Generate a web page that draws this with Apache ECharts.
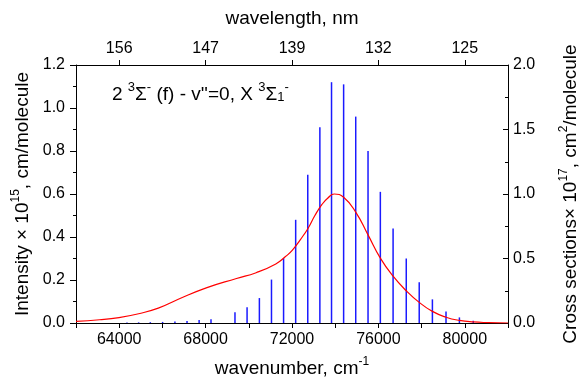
<!DOCTYPE html>
<html>
<head>
<meta charset="utf-8">
<script src="https://cdn.jsdelivr.net/npm/echarts@6/dist/echarts.min.js"></script>
<style>html,body{margin:0;padding:0;background:#fff;}#c{width:588px;height:383px;}</style>
</head>
<body>
<div id="c"></div>
<script>
// ---- data ----
const wavenumberTicks = [64000, 68000, 72000, 76000, 80000];
const wavelengthLabels = ['156', '147', '139', '132', '125'];

const stickWavenumber = [64360, 64900, 65440, 66010, 66580, 67140, 67700, 68250, 69360, 69920, 70490, 71050, 71610, 72170, 72730, 73290, 73830, 74390, 74950, 75520, 76090, 76680, 77290, 77890, 78500, 79130, 79750, 80390];
const stickIntensity = [0.002, 0.003, 0.004, 0.005, 0.007, 0.009, 0.014, 0.017, 0.050, 0.073, 0.116, 0.202, 0.302, 0.48, 0.69, 0.91, 1.12, 1.11, 0.96, 0.80, 0.61, 0.44, 0.30, 0.19, 0.11, 0.054, 0.026, 0.010];

const curveWavenumber = [62000, 63090, 63990, 64900, 65810, 66710, 68030, 69430, 70340, 71250, 71700, 72020, 72380, 72740, 73060, 73380, 73650, 73960, 74390, 74950, 75520, 76090, 76680, 77290, 77890, 78500, 79130, 79750, 80390, 81080, 82000];
const curveCrossSection = [0.013, 0.025, 0.042, 0.072, 0.115, 0.182, 0.272, 0.345, 0.39, 0.458, 0.515, 0.565, 0.645, 0.733, 0.833, 0.917, 0.967, 1.0, 0.975, 0.86, 0.683, 0.503, 0.363, 0.25, 0.16, 0.09, 0.045, 0.02, 0.008, 0.003, 0.0];

// ---- chart ----
const FONT = 'Liberation Sans';
const black = '#000';
const chart = echarts.init(document.getElementById('c'), null, {renderer: 'canvas'});

const titleRich = {
  n: {fontSize: 19, fontFamily: FONT, fontWeight: 'normal', color: black, lineHeight: 22, verticalAlign: 'bottom'},
  sup: {fontSize: 12, fontFamily: FONT, fontWeight: 'normal', color: black, lineHeight: 22, verticalAlign: 'top'}
};
const annRich = {
  n: {fontSize: 19, fontFamily: FONT, fontWeight: 'normal', color: black, lineHeight: 23, verticalAlign: 'bottom'},
  sup: {fontSize: 13, fontFamily: FONT, fontWeight: 'normal', color: black, lineHeight: 23, verticalAlign: 'top'},
  sub: {fontSize: 13, fontFamily: FONT, fontWeight: 'normal', color: black, lineHeight: 21, verticalAlign: 'bottom'}
};

const baseAxis = {
  axisLine: {show: true, onZero: false, lineStyle: {color: black, width: 1}},
  splitLine: {show: false},
  axisLabel: {fontFamily: FONT, fontSize: 16, color: black},
  nameTextStyle: {fontFamily: FONT, fontSize: 19, color: black}
};

const option = {
  animation: false,
  backgroundColor: '#fff',
  title: {
    text: '{n|2 }{sup|3}{n|Σ}{sup|-}{n| (f) - v\'\'=0, X }{sup|3}{n|Σ}{sub|1}{sup|-}',
    left: 107, top: 76,
    textStyle: {fontWeight: 'normal', rich: annRich}
  },
  grid: {left: 76, right: 71, top: 65, bottom: 55},
  xAxis: [
    Object.assign({}, baseAxis, {
      type: 'value', position: 'bottom', min: 62000, max: 82000, interval: 2000,
      axisTick: {show: true, length: 5, lineStyle: {color: black}},
      axisLabel: Object.assign({}, baseAxis.axisLabel, {
        margin: 9, customValues: wavenumberTicks, formatter: v => String(v)
      }),
      name: '{n|wavenumber, cm}{sup|-1}',
      nameLocation: 'middle', nameGap: 33,
      nameTextStyle: {rich: titleRich}
    }),
    Object.assign({}, baseAxis, {
      type: 'value', position: 'top', min: 62000, max: 82000,
      axisTick: {show: true, length: 5, customValues: wavenumberTicks, lineStyle: {color: black}},
      axisLabel: Object.assign({}, baseAxis.axisLabel, {
        margin: 8, customValues: wavenumberTicks,
        formatter: v => wavelengthLabels[wavenumberTicks.indexOf(v)] || ''
      }),
      name: 'wavelength, nm',
      nameLocation: 'middle', nameGap: 37
    })
  ],
  yAxis: [
    Object.assign({}, baseAxis, {
      type: 'value', position: 'left', min: 0, max: 1.2, interval: 0.2,
      axisTick: {show: true, length: 6, lineStyle: {color: black}},
      minorTick: {show: true, splitNumber: 2, length: 3, lineStyle: {color: black}},
      axisLabel: Object.assign({}, baseAxis.axisLabel, {margin: 11, formatter: v => v.toFixed(1)}),
      name: '{n|Intensity × 10}{sup|15}{n|, cm/molecule}',
      nameLocation: 'middle', nameRotate: 90, nameGap: 42,
      nameTextStyle: {rich: titleRich}
    }),
    Object.assign({}, baseAxis, {
      type: 'value', position: 'right', min: 0, max: 2.0, interval: 0.5,
      axisTick: {show: true, inside: true, length: 5, lineStyle: {color: black}},
      minorTick: {show: true, splitNumber: 2, length: 3, lineStyle: {color: black}},
      axisLabel: Object.assign({}, baseAxis.axisLabel, {margin: 5, formatter: v => v.toFixed(1)}),
      name: '{n|Cross sections× 10}{sup|17}{n|, cm}{sup|2}{n|/molecule}',
      nameLocation: 'middle', nameRotate: 90, nameGap: 50,
      nameTextStyle: {rich: titleRich}
    })
  ],
  series: [
    {
      type: 'bar', xAxisIndex: 0, yAxisIndex: 0,
      barWidth: 1.5,
      itemStyle: {color: '#1a1aff'},
      data: stickWavenumber.map((w, i) => [w, stickIntensity[i]]),
      z: 2
    },
    {
      type: 'line', xAxisIndex: 0, yAxisIndex: 1,
      smooth: true, showSymbol: false, symbol: 'none',
      lineStyle: {color: '#ff0000', width: 1.2},
      data: curveWavenumber.map((w, i) => [w, curveCrossSection[i]]),
      z: 3
    }
  ]
};
chart.setOption(option);
</script>
</body>
</html>
